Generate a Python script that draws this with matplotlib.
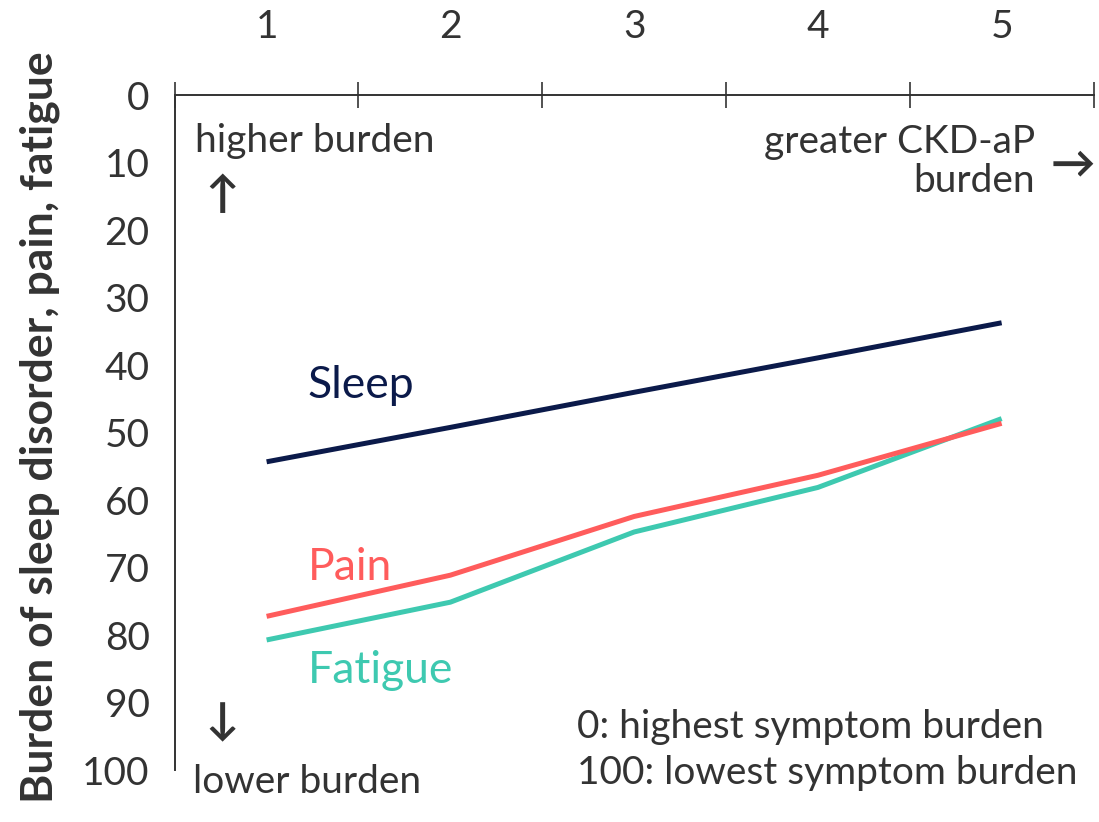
import matplotlib.pyplot as plt

plt.rcParams['font.family'] = ['Lato', 'DejaVu Sans']

groups = [1, 2, 3, 4, 5]
sleep = [54.3, 49.2, 44.0, 38.9, 33.7]
pain = [77.2, 71.1, 62.4, 56.3, 48.6]
fatigue = [80.7, 75.1, 64.7, 58.1, 47.9]
y_ticks = [0, 10, 20, 30, 40, 50, 60, 70, 80, 90, 100]

navy = '#0b1a4a'
coral = '#ff5c5c'
teal = '#3ec9b0'
ink = '#333333'

fig = plt.figure(figsize=(10.99, 8.22), dpi=100)
ax = fig.add_axes([0.159, 0.063, 0.836, 0.821])

ax.plot(groups, sleep, color=navy, lw=3.6, solid_capstyle='butt')
ax.plot(groups, fatigue, color=teal, lw=3.6, solid_capstyle='butt')
ax.plot(groups, pain, color=coral, lw=3.6, solid_capstyle='butt')

ax.set_xlim(0.5, 5.5)
ax.set_ylim(100, 0)

for s in ['right', 'bottom']:
    ax.spines[s].set_visible(False)
for s in ['top', 'left']:
    ax.spines[s].set_color(ink)
    ax.spines[s].set_linewidth(1.4)

# x axis on top: boundary ticks, centred labels
ax.xaxis.tick_top()
ax.set_xticks([0.5, 1.5, 2.5, 3.5, 4.5, 5.5])
ax.set_xticklabels([])
ax.set_xticks(groups, minor=True)
ax.set_xticklabels([str(g) for g in groups], minor=True)
ax.tick_params(axis='x', which='major', direction='inout', length=19, width=1.2, color=ink)
ax.tick_params(axis='x', which='minor', length=0, pad=36, labelsize=28, labelcolor=ink)

ax.set_yticks(y_ticks)
ax.tick_params(axis='y', length=0, pad=18, labelsize=28, labelcolor=ink)

fig.text(0.036, 0.48, 'Burden of sleep disorder, pain, fatigue', rotation=90,
         ha='center', va='center', fontsize=32, fontweight='bold', color=ink)

tk = dict(fontsize=28, color=ink)
ak = dict(fontsize=32, color=ink, fontweight='bold', ha='center', va='center')
ax.text(0.61, 6.7, 'higher burden', ha='left', va='center', **tk)
ax.text(0.756, 14.8, '↑', **ak)
ax.text(5.18, 9.8, 'greater CKD-aP\nburden', ha='right', va='center',
        multialignment='right', linespacing=1.1, **tk)
ax.text(5.39, 10.3, '→', clip_on=False, **ak)
ax.text(0.756, 92.9, '↓', **ak)
ax.text(0.598, 101.8, 'lower burden', ha='left', va='center', clip_on=False, **tk)
ax.text(2.69, 93.6, '0: highest symptom burden', ha='left', va='center', **tk)
ax.text(2.69, 100.4, '100: lowest symptom burden', ha='left', va='center', clip_on=False, **tk)

ax.text(1.224, 43.0, 'Sleep', ha='left', va='center', fontsize=32, color=navy)
ax.text(1.224, 70.0, 'Pain', ha='left', va='center', fontsize=32, color=coral)
ax.text(1.224, 85.2, 'Fatigue', ha='left', va='center', fontsize=32, color=teal)

fig.savefig('out.png', dpi=100)
